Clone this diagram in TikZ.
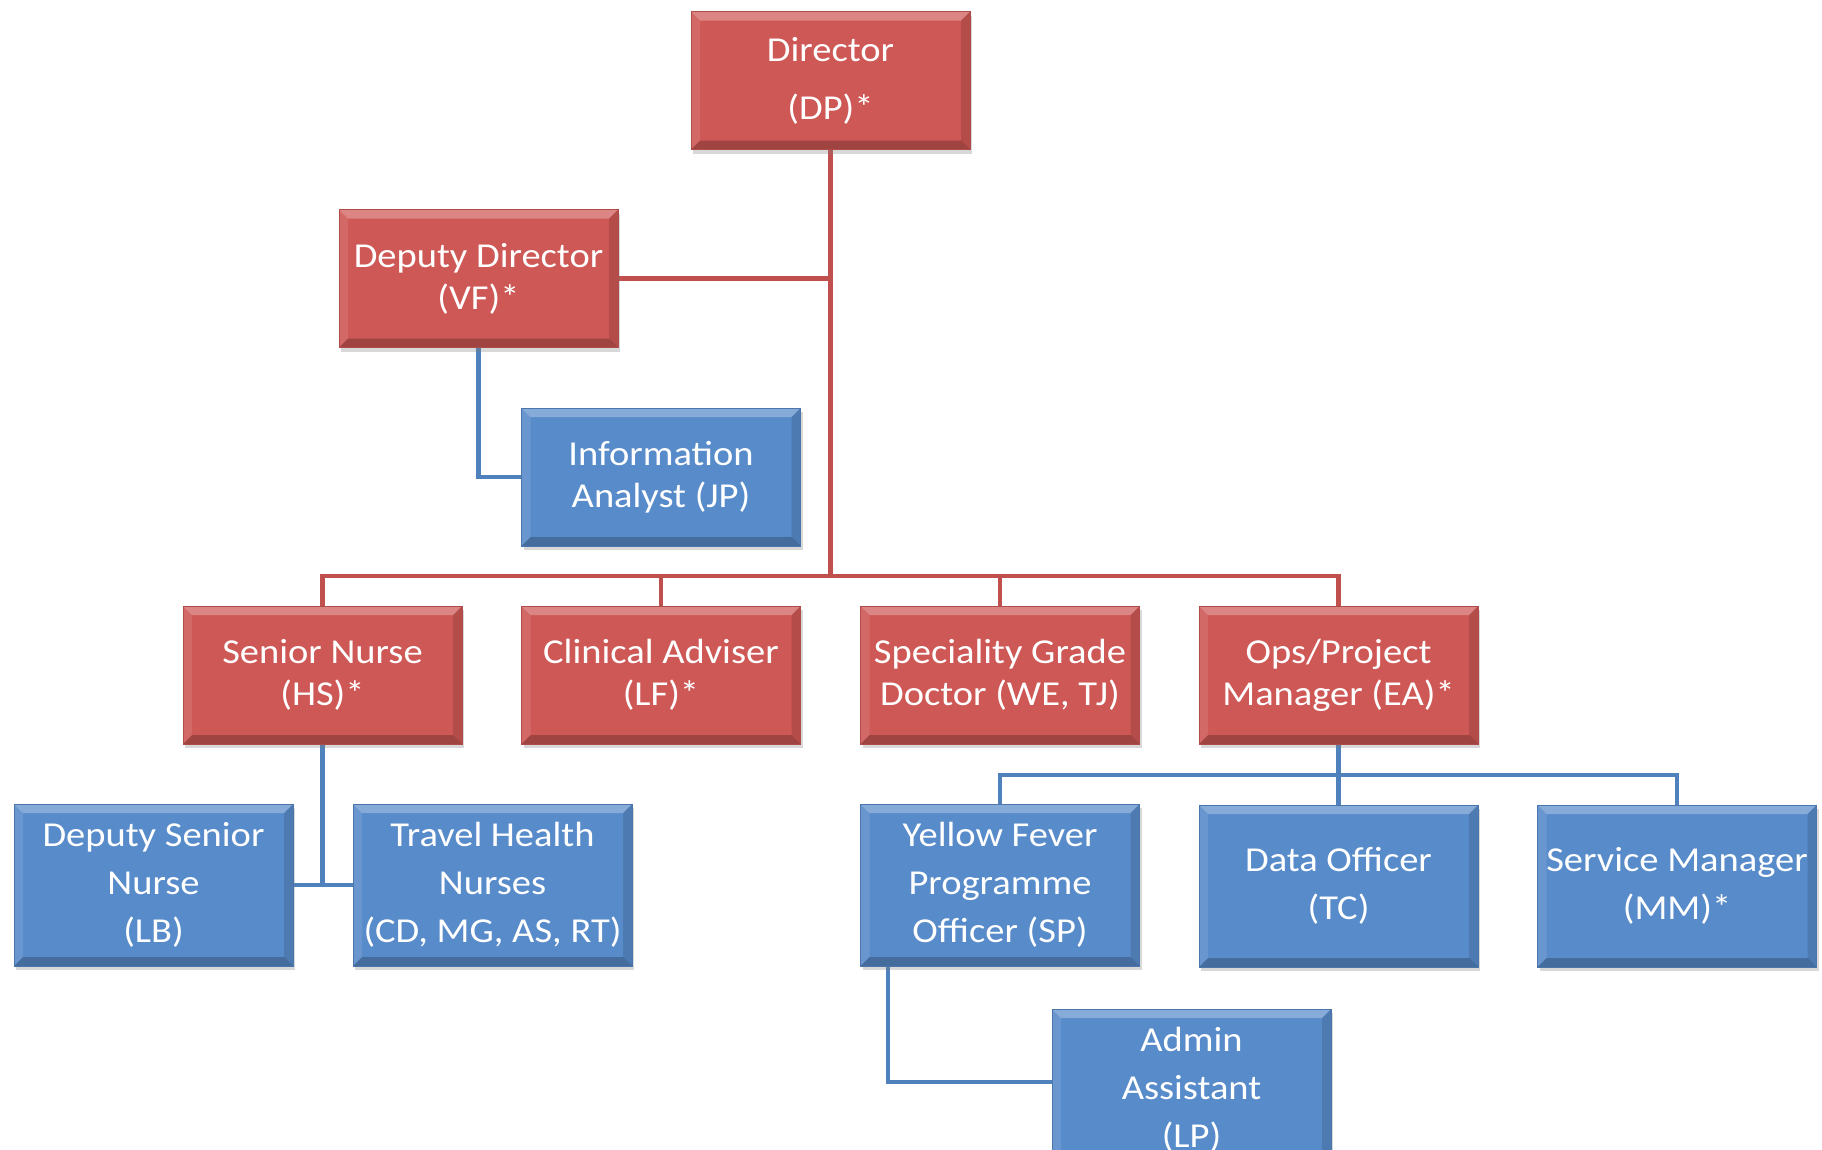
\documentclass[tikz,border=0pt]{standalone}
\usepackage{fontspec}
\setmainfont{Carlito}[FakeStretch=1.1]
\usetikzlibrary{calc,shadows,backgrounds}
\definecolor{boxred}{RGB}{206,88,85}
\definecolor{boxblue}{RGB}{88,139,202}
\definecolor{linered}{RGB}{192,80,77}
\definecolor{lineblue}{RGB}{79,129,189}
\tikzset{
  orgbox/.style={rectangle, minimum width=279pt, minimum height=138pt, inner sep=0pt,
    text=white, align=center, font=\fontsize{35}{42}\selectfont,
    drop shadow={shadow xshift=2pt, shadow yshift=-4pt, opacity=0.3},
    path picture={
      \path (path picture bounding box.north west) coordinate (p1)
            (path picture bounding box.north east) coordinate (p2)
            (path picture bounding box.south east) coordinate (p3)
            (path picture bounding box.south west) coordinate (p4);
      \fill[white,opacity=0.28] (p1) -- (p2) -- ($(p2)+(-9pt,-9pt)$) -- ($(p1)+(9pt,-9pt)$) -- cycle;
      \fill[white,opacity=0.10] (p1) -- ($(p1)+(9pt,-9pt)$) -- ($(p4)+(9pt,9pt)$) -- (p4) -- cycle;
      \fill[black,opacity=0.12] (p2) -- (p3) -- ($(p3)+(-9pt,9pt)$) -- ($(p2)+(-9pt,-9pt)$) -- cycle;
      \fill[black,opacity=0.22] (p4) -- (p3) -- ($(p3)+(-9pt,9pt)$) -- ($(p4)+(9pt,9pt)$) -- cycle;
    }},
  redbox/.style={orgbox, fill=boxred, draw=boxred!85!black, line width=1pt},
  bluebox/.style={orgbox, fill=boxblue, draw=boxblue!85!black, line width=1pt},
  tall/.style={minimum height=162pt, font=\fontsize{35}{48}\selectfont},
  redline/.style={draw=linered, line width=4.5pt},
  blueline/.style={draw=lineblue, line width=4.5pt},
}
\begin{document}
\begin{tikzpicture}[x=1pt,y=-1pt]
\useasboundingbox (0,0) rectangle (1822,1149);

\node[redbox, font=\fontsize{35}{58}\selectfont] (dir) at (830.5,80.5) {Director\\(DP)*};
\node[redbox] (dd) at (478.5,278.5) {Deputy Director\\(VF)*};
\node[bluebox] (ia) at (661,477) {Information\\Analyst (JP)};

\node[redbox] (sn)  at (322.5,675) {Senior Nurse\\(HS)*};
\node[redbox] (ca)  at (661,675) {Clinical Adviser\\(LF)*};
\node[redbox] (sg)  at (1000,675) {Speciality Grade\\Doctor (WE, TJ)};
\node[redbox] (ops) at (1338.5,675) {Ops/Project\\Manager (EA)*};

\node[bluebox, tall] (dsn) at (153.5,885) {Deputy Senior\\Nurse\\(LB)};
\node[bluebox, tall] (thn) at (492.5,885) {Travel Health\\Nurses\\(CD, MG, AS, RT)};
\node[bluebox, tall] (yf)  at (1000,885) {Yellow Fever\\Programme\\Officer (SP)};
\node[bluebox, tall] (dof) at (1338.5,886) {Data Officer\\(TC)};
\node[bluebox, tall] (sm)  at (1677,886) {Service Manager\\(MM)*};
\node[bluebox, tall] (admin) at (1191.5,1090) {Admin\\Assistant\\(LP)};

\begin{scope}[on background layer]
  \fill[white] (0,0) rectangle (1822,1149);
  \coordinate (rbus) at (830.5,576);
  \coordinate (bbus) at (1338.5,775);
  \coordinate (yfl) at ($(yf.south west)+(28pt,0pt)$);
  \draw[redline] (dir.south) -- (rbus);
  \draw[redline] (dd.east) -- (dd.east -| rbus);
  \draw[redline] (sn.north) |- (rbus);
  \draw[redline] (ops.north) |- (rbus);
  \draw[redline] (ca.north) -- (ca.north |- rbus);
  \draw[redline] (sg.north) -- (sg.north |- rbus);
  \draw[blueline] (dd.south) |- (ia.west);
  \draw[blueline] (sn.south) -- (sn.south |- dsn.east);
  \draw[blueline] (dsn.east) -- (thn.west);
  \draw[blueline] (ops.south) -- (bbus);
  \draw[blueline] (yf.north) |- (bbus);
  \draw[blueline] (sm.north) |- (bbus);
  \draw[blueline] (dof.north) -- (bbus);
  \draw[blueline] (yfl) |- ($(admin.west)+(0pt,8pt)$);
\end{scope}
\end{tikzpicture}
\end{document}
